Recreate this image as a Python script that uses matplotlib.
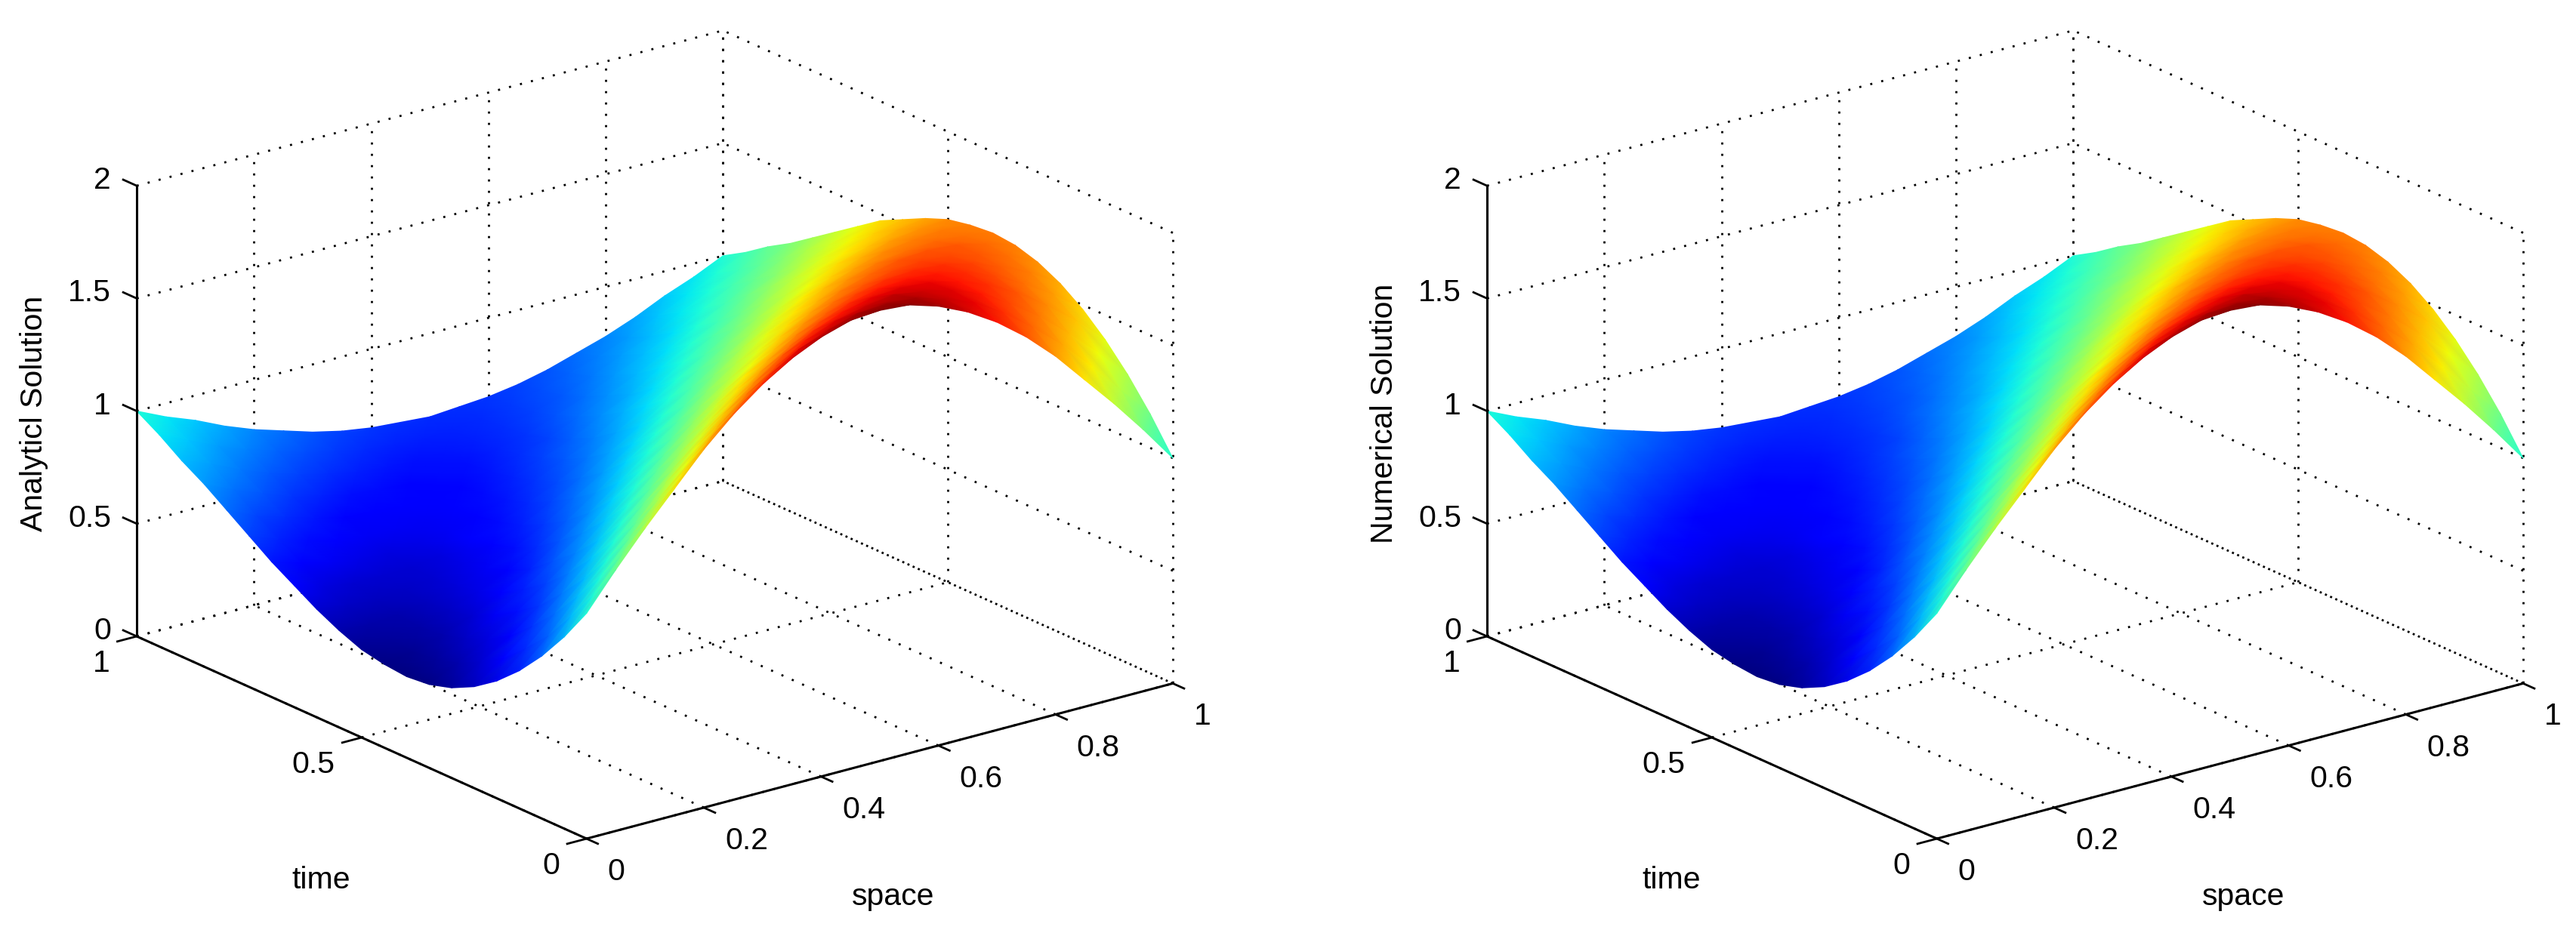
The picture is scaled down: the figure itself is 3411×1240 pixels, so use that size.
#!/usr/bin/env python3
import numpy as np
import matplotlib
matplotlib.use("Agg")
import matplotlib.pyplot as plt
from mpl_toolkits.mplot3d import proj3d

W, H = 3411, 1240
plt.rcParams["font.family"] = ["Liberation Sans", "DejaVu Sans"]

space = np.linspace(0, 1, 21)
time = np.linspace(0, 1, 21)
# one row per time step
solution = np.array([
    [1.00, 1.16, 1.31, 1.45, 1.59, 1.71, 1.81, 1.89, 1.95, 1.99, 2.00, 1.99, 1.95, 1.89, 1.81, 1.71, 1.59, 1.45, 1.31, 1.16, 1.00],
    [0.85, 1.00, 1.15, 1.29, 1.43, 1.56, 1.67, 1.77, 1.85, 1.90, 1.94, 1.95, 1.94, 1.90, 1.85, 1.77, 1.67, 1.56, 1.43, 1.29, 1.15],
    [0.72, 0.86, 1.00, 1.14, 1.28, 1.41, 1.53, 1.64, 1.73, 1.81, 1.86, 1.89, 1.91, 1.89, 1.86, 1.81, 1.73, 1.64, 1.53, 1.41, 1.28],
    [0.61, 0.73, 0.87, 1.00, 1.13, 1.27, 1.39, 1.51, 1.61, 1.70, 1.77, 1.82, 1.85, 1.86, 1.85, 1.82, 1.77, 1.70, 1.61, 1.51, 1.39],
    [0.52, 0.63, 0.75, 0.87, 1.00, 1.13, 1.25, 1.37, 1.48, 1.58, 1.66, 1.73, 1.78, 1.81, 1.82, 1.81, 1.78, 1.73, 1.66, 1.58, 1.48],
    [0.45, 0.54, 0.65, 0.76, 0.88, 1.00, 1.12, 1.24, 1.35, 1.46, 1.55, 1.63, 1.69, 1.74, 1.77, 1.78, 1.77, 1.74, 1.69, 1.63, 1.55],
    [0.40, 0.48, 0.56, 0.66, 0.77, 0.88, 1.00, 1.12, 1.23, 1.34, 1.44, 1.52, 1.60, 1.66, 1.70, 1.73, 1.74, 1.73, 1.70, 1.66, 1.60],
    [0.37, 0.43, 0.50, 0.59, 0.68, 0.78, 0.89, 1.00, 1.11, 1.22, 1.32, 1.41, 1.50, 1.57, 1.63, 1.67, 1.70, 1.71, 1.70, 1.67, 1.63],
    [0.36, 0.40, 0.46, 0.53, 0.61, 0.70, 0.79, 0.90, 1.00, 1.10, 1.21, 1.30, 1.39, 1.47, 1.54, 1.60, 1.64, 1.66, 1.67, 1.66, 1.64],
    [0.37, 0.39, 0.43, 0.48, 0.55, 0.62, 0.71, 0.80, 0.90, 1.00, 1.10, 1.20, 1.29, 1.38, 1.45, 1.52, 1.57, 1.61, 1.63, 1.64, 1.63],
    [0.39, 0.40, 0.42, 0.46, 0.51, 0.57, 0.64, 0.72, 0.81, 0.91, 1.00, 1.09, 1.19, 1.28, 1.36, 1.43, 1.49, 1.54, 1.58, 1.60, 1.61],
    [0.43, 0.42, 0.43, 0.45, 0.49, 0.53, 0.59, 0.66, 0.74, 0.82, 0.91, 1.00, 1.09, 1.18, 1.26, 1.34, 1.41, 1.47, 1.51, 1.55, 1.57],
    [0.48, 0.46, 0.45, 0.46, 0.48, 0.51, 0.56, 0.61, 0.68, 0.75, 0.83, 0.91, 1.00, 1.09, 1.17, 1.25, 1.32, 1.39, 1.44, 1.49, 1.52],
    [0.54, 0.50, 0.48, 0.48, 0.48, 0.50, 0.54, 0.58, 0.63, 0.69, 0.76, 0.84, 0.92, 1.00, 1.08, 1.16, 1.24, 1.31, 1.37, 1.42, 1.47],
    [0.60, 0.56, 0.53, 0.51, 0.50, 0.51, 0.53, 0.56, 0.60, 0.65, 0.71, 0.77, 0.85, 0.92, 1.00, 1.08, 1.15, 1.23, 1.29, 1.35, 1.40],
    [0.67, 0.62, 0.58, 0.55, 0.53, 0.53, 0.53, 0.55, 0.58, 0.62, 0.67, 0.72, 0.79, 0.85, 0.93, 1.00, 1.07, 1.15, 1.21, 1.28, 1.33],
    [0.74, 0.68, 0.64, 0.60, 0.57, 0.56, 0.55, 0.56, 0.57, 0.60, 0.64, 0.68, 0.74, 0.80, 0.86, 0.93, 1.00, 1.07, 1.14, 1.20, 1.26],
    [0.81, 0.75, 0.70, 0.65, 0.62, 0.59, 0.58, 0.57, 0.58, 0.59, 0.62, 0.65, 0.70, 0.75, 0.81, 0.87, 0.93, 1.00, 1.07, 1.13, 1.19],
    [0.87, 0.82, 0.76, 0.71, 0.67, 0.64, 0.61, 0.60, 0.59, 0.60, 0.61, 0.64, 0.67, 0.71, 0.76, 0.82, 0.87, 0.94, 1.00, 1.06, 1.13],
    [0.94, 0.88, 0.82, 0.77, 0.73, 0.69, 0.66, 0.63, 0.62, 0.61, 0.62, 0.63, 0.66, 0.69, 0.73, 0.77, 0.82, 0.88, 0.94, 1.00, 1.06],
    [1.00, 0.94, 0.89, 0.83, 0.78, 0.74, 0.70, 0.67, 0.65, 0.64, 0.63, 0.64, 0.65, 0.67, 0.70, 0.74, 0.78, 0.83, 0.89, 0.94, 1.00],
])
space_ticks = [0, 0.2, 0.4, 0.6, 0.8, 1]
time_ticks = [0, 0.5, 1]
value_ticks = [0, 0.5, 1, 1.5, 2]
panel_labels = ["Analyticl Solution", "Numerical Solution"]

FS = 29.5
GRID = dict(color="black", lw=2.0, ls=(0, (1, 4.4)), zorder=1)
AXIS = dict(color="black", lw=2.2, zorder=4, solid_capstyle="butt")


def project(ax, x, y, z):
    X, Y, _ = proj3d.proj_transform(x, y, z, ax.get_proj())
    return X, Y


def place_axes(ax, left_px):
    # scale the 3d box so its left and right floor corners land on the target pixels
    ua = ax.transLimits.transform(project(ax, 0, 1, 0))
    ub = ax.transLimits.transform(project(ax, 1, 0, 0))
    side = 1372 / (ub[0] - ua[0])
    x0 = left_px - side * ua[0]
    y0 = H - 843 - side * ua[1]
    ax.set_position([x0 / W, y0 / H, side / W, side / H])


def put_text(ax, x, y, z, s, dx, dy, **kw):
    ax.annotate(s, project(ax, x, y, z), xytext=(dx, dy), textcoords="offset pixels",
                fontsize=FS, annotation_clip=False, **kw)


def draw_surface(ax):
    # like matlab's shading interp: gouraud mesh on the projected table, far cells first
    xx, tt = np.meshgrid(space, time)
    px, py = project(ax, xx.ravel(), tt.ravel(), solution.ravel())
    px = px.reshape(xx.shape)[::-1, ::-1]
    py = py.reshape(xx.shape)[::-1, ::-1]
    mesh = ax.pcolormesh(px, py, solution[::-1, ::-1], shading="gouraud", cmap="jet",
                         vmin=solution.min(), vmax=solution.max(), zorder=2)
    # Axes3D.draw asks every collection for this
    mesh.do_3d_projection = lambda: 0


def draw_panel(fig, left_px, label):
    ax = fig.add_subplot(projection="3d", proj_type="ortho", computed_zorder=False)
    ax.set_axis_off()
    ax.patch.set_visible(False)
    ax.set_xlim(0, 1)
    ax.set_ylim(0, 1)
    ax.set_zlim(0, 2)
    ax.view_init(elev=20.2, azim=-127.5)
    ax.set_box_aspect((1, 1, 0.65))
    place_axes(ax, left_px)

    # grid on the floor and the two back walls
    for x in space_ticks:
        ax.plot([x, x], [0, 1], [0, 0], **GRID)
        ax.plot([x, x], [1, 1], [0, 2], **GRID)
    for t in time_ticks:
        ax.plot([0, 1], [t, t], [0, 0], **GRID)
        ax.plot([1, 1], [t, t], [0, 2], **GRID)
    for v in value_ticks:
        ax.plot([0, 1], [1, 1], [v, v], **GRID)
        # the floor edge at x=1 is drawn twice out of phase, so it looks denser
        ax.plot([1, 1], [0, 1], [v, v], **{**GRID, "ls": (2.7 if v == 0 else 0, (1, 4.4))})

    draw_surface(ax)

    ax.plot([0, 1], [0, 0], [0, 0], **AXIS)
    ax.plot([0, 0], [0, 1], [0, 0], **AXIS)
    ax.plot([0, 0], [1, 1], [0, 2], **AXIS)

    for x in space_ticks:
        ax.plot([x, x], [0, -0.025], [0, 0], color="black", lw=2, zorder=4)
        put_text(ax, x, 0, 0, f"{x:g}", 28, -44, ha="left", va="center")
    for t in time_ticks:
        ax.plot([0, -0.033], [t, t], [0, 0], color="black", lw=2, zorder=4)
        put_text(ax, 0, t, 0, f"{t:g}", -35, -36, ha="right", va="center")
    for v in value_ticks:
        ax.plot([0, 0], [1, 1.03], [v, v], color="black", lw=2, zorder=4)
        put_text(ax, 0, 1, v, f"{v:g}", -34, 7, ha="right", va="center")

    put_text(ax, 0.5, 0, 0, "space", 18, -180, ha="center", va="center")
    put_text(ax, 0, 0.5, 0, "time", -54, -189, ha="center", va="center")
    put_text(ax, 0, 1, 1, label, -136, -3, ha="center", va="center", rotation=90)


fig = plt.figure(figsize=(W / 100, H / 100), dpi=100)
for left_px, label in zip([181, 1969], panel_labels):
    draw_panel(fig, left_px, label)
fig.savefig("out.png", dpi=100)
